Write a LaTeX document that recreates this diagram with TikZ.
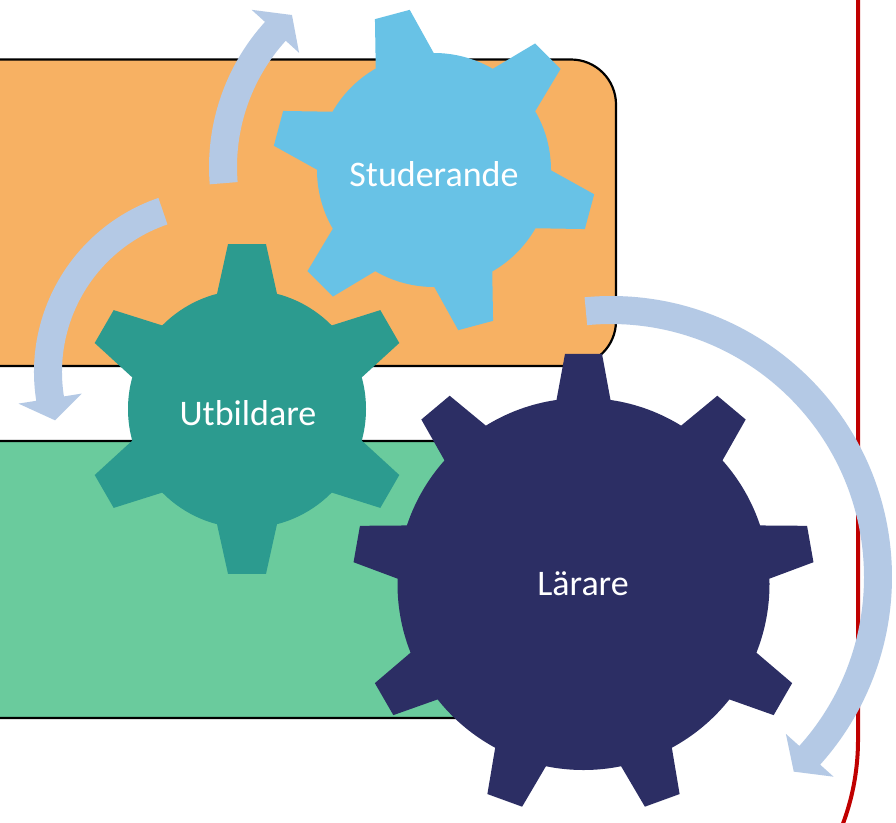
\documentclass[tikz,border=0pt]{standalone}
\usepackage{fontspec}
\setmainfont{Carlito}
\definecolor{boxorange}{RGB}{247,177,99}
\definecolor{boxgreen}{RGB}{106,203,157}
\definecolor{gearteal}{RGB}{44,155,143}
\definecolor{gearnavy}{RGB}{44,46,100}
\definecolor{gearsky}{RGB}{104,194,230}
\definecolor{arrowblue}{RGB}{180,201,229}
\definecolor{redline}{RGB}{192,0,0}
\tikzset{
  bandbox/.style={draw=black,line width=2.2pt,rounded corners=45pt},
  gearlabel/.style={text=white,font=\fontsize{36}{43}\selectfont,anchor=base,inner sep=0pt},
  cyclearrow/.style={fill=arrowblue},
}
% gear: cx, cy, body radius, outer radius, base half-angle, tip half-angle, teeth, offset, colour
\newcommand{\mygear}[9]{%
  \begin{scope}[shift={(#1,#2)}]
    \fill[#9] (0,0) circle[radius=#3];
    \foreach \k in {1,...,#7}{%
      \pgfmathsetmacro{\ph}{#8+360/#7*\k}%
      \pgfmathsetmacro{\rin}{0.6*#3}%
      \fill[#9] (\ph-#5:\rin) -- (\ph-#5:#3) -- (\ph-#6:#4) -- (\ph+#6:#4) -- (\ph+#5:#3) -- (\ph+#5:\rin) -- cycle;
    }
  \end{scope}}
% curved arrow: cx, cy, r, tail angle, head base angle, tip angle
\newcommand{\myarrow}[6]{%
  \begin{scope}[shift={(#1,#2)}]
    \pgfmathsetmacro{\ro}{#3+14}%
    \pgfmathsetmacro{\ri}{#3-14}%
    \pgfmathsetmacro{\bo}{#3+32}%
    \pgfmathsetmacro{\bi}{#3-32}%
    \fill[cyclearrow] (#4:\ro) arc[start angle=#4, end angle=#5, radius=\ro]
      -- (#5:\bo) -- (#6:#3) -- (#5:\bi) -- (#5:\ri)
      arc[start angle=#5, end angle=#4, radius=\ri] -- cycle;
  \end{scope}}
\begin{document}
\begin{tikzpicture}[x=1pt,y=-1pt]
\useasboundingbox (0,0) rectangle (896,822);
\clip (0,0) rectangle (896,822);
\fill[white] (0,0) rectangle (896,822);
% bands
\draw[bandbox,fill=boxorange] (-120,59.5) rectangle (616,366);
\draw[bandbox,fill=boxgreen] (-120,441) rectangle (560,718);
% red frame line
\draw[redline,line width=4pt] (858,-10) -- (858,740) coordinate (rl) arc[start angle=0, end angle=24, radius=240];
% gears
\mygear{434}{170}{117}{162}{14.86}{6.38}{6}{15}{gearsky}
\mygear{247}{409}{119}{166}{14.6}{6.57}{6}{30}{gearteal}
\mygear{583.5}{584}{186}{231}{8.35}{4.59}{9}{-10}{gearnavy}
% arrows
\myarrow{425}{167}{202}{175.4}{222.2}{228.8}
\myarrow{218}{372}{170}{251.1}{171}{163.5}
\myarrow{611}{577}{267}{264.6}{401.9}{406.8}
% labels
\node[gearlabel] (stud) at (434,186) {Studerande};
\node[gearlabel] (utb) at (248,425) {Utbildare};
\node[gearlabel] (lar) at (583,595) {Lärare};
\end{tikzpicture}
\end{document}
